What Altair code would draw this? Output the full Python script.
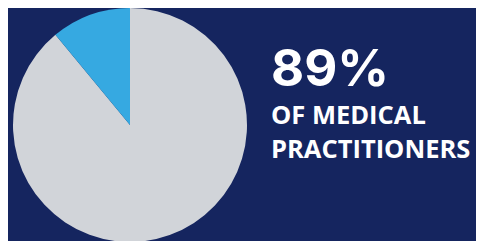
import altair as alt
import pandas as pd

categories = ["Medical practitioners", "Others"]
values = [89, 11]
colors = ["#d1d4d9", "#36a9e1"]
big_label = ["89%"]
lines = ["OF MEDICAL", "PRACTITIONERS"]

bg = "#15255f"

pie_df = pd.DataFrame({"category": categories, "value": values, "order": [0, 1]})

pie = alt.Chart(pie_df).mark_arc(radius=117).encode(
    theta=alt.Theta("value:Q", stack=True),
    color=alt.Color("category:N", scale=alt.Scale(domain=categories, range=colors), legend=None),
    order=alt.Order("order:Q"),
    x=alt.value(122),
    y=alt.value(117),
)

big = alt.Chart(pd.DataFrame({"t": big_label})).mark_text(
    font="Inter", fontWeight="bold", fontSize=51, color="white",
    align="left", baseline="alphabetic",
).encode(text="t:N", x=alt.value(263), y=alt.value(78))

line_df = pd.DataFrame({"t": lines, "y": [115.5, 150]})
small = alt.Chart(line_df).mark_text(
    font="Open Sans", fontWeight="bold", fontSize=25.5, color="white",
    align="left", baseline="alphabetic",
).encode(text="t:N", x=alt.value(263), y=alt.Y("y:Q", scale=None, axis=None))

chart = alt.layer(pie, big, small).properties(
    width=468, height=233, padding=0, background=bg,
    autosize=alt.AutoSizeParams(type="fit", contains="padding"),
).configure_view(stroke=None)

chart.save("out.html", embed_options={"renderer": "svg", "actions": False})
